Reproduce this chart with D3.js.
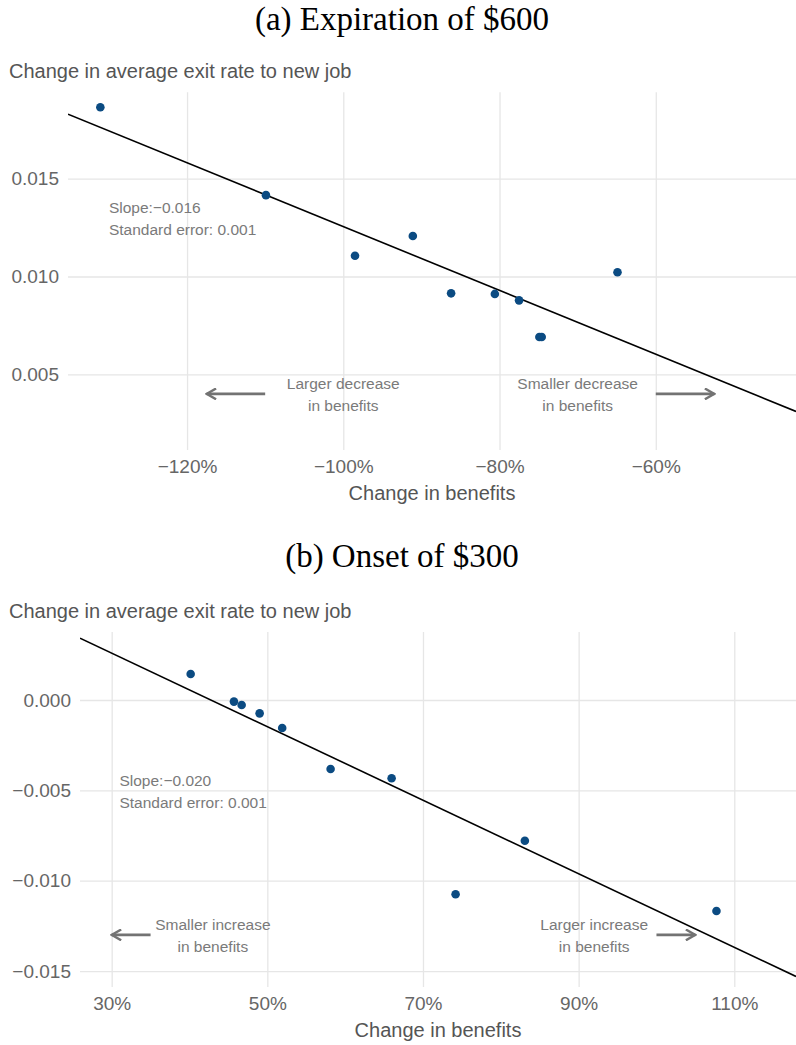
<!DOCTYPE html>
<html lang="en">
<head>
<meta charset="utf-8">
<style>
  body { margin: 0; background: #fff; }
  svg text { font-family: "Liberation Sans", Arial, sans-serif; }
  .grid line { stroke: #e6e6e6; stroke-width: 1.3; }
  .grid text { fill: #666; font-size: 19px; font-family: "Liberation Sans", Arial, sans-serif; }
  .axis-title { fill: #555; font-size: 20px; }
  .note { fill: #7a7a7a; font-size: 15.5px; }
  .panel-title { font-family: "Liberation Serif", "Times New Roman", serif !important; font-size: 33px; fill: #000; }
  .fit { fill: none; stroke: #000; stroke-width: 1.6; }
  .dot { fill: #0b4b82; }
  .arrow { stroke: #737373; stroke-width: 2.6; fill: none; }
</style>
</head>
<body>
<svg width="796" height="1045"></svg>
<script src="https://cdn.jsdelivr.net/npm/d3@7"></script>
<script>

// ---- panel (a): expiration of $600 ----
var expChange = [-1.311, -1.099, -0.985, -0.911, -0.862, -0.806, -0.775, -0.749, -0.746, -0.649];
var expExitRate = [0.01865, 0.01416, 0.01106, 0.01207, 0.00914, 0.00911, 0.00878, 0.00691, 0.00691, 0.01022];
var expFit = { intercept: -0.003758, slope: -0.01631 };
var expXTicks = [-1.2, -1.0, -0.8, -0.6];
var expYTicks = [0.005, 0.010, 0.015];
var expStats = ["Slope:\u22120.016", "Standard error: 0.001"];
var expNotes = [
    { x: -1.00, y: 0.004, lines: ["Larger decrease", "in benefits"], from: -1.10, to: -1.175 },
    { x: -0.70, y: 0.004, lines: ["Smaller decrease", "in benefits"], from: -0.60, to: -0.525 }
];

// ---- panel (b): onset of $300 ----
var onsChange = [0.4015, 0.4571, 0.4670, 0.4901, 0.5191, 0.5813, 0.6597, 0.7419, 0.8309, 1.0771];
var onsExitRate = [0.00144, -0.00009, -0.00028, -0.00074, -0.00155, -0.00382, -0.00433, -0.01075, -0.00779, -0.01168];
var onsFit = { intercept: 0.0087, slope: -0.02035 };
var onsXTicks = [0.3, 0.5, 0.7, 0.9, 1.1];
var onsYTicks = [0.000, -0.005, -0.010, -0.015];
var onsStats = ["Slope:\u22120.020", "Standard error: 0.001"];
var onsNotes = [
    { x: 0.43, y: -0.013, lines: ["Smaller increase", "in benefits"], from: 0.35, to: 0.30 },
    { x: 0.92, y: -0.013, lines: ["Larger increase", "in benefits"], from: 1.00, to: 1.05 }
];

var svg = d3.select("svg");

svg.append("defs").append("marker")
    .attr("id", "head")
    .attr("viewBox", "0 0 12 12")
    .attr("refX", 10.5).attr("refY", 6)
    .attr("markerWidth", 12).attr("markerHeight", 12)
    .attr("markerUnits", "userSpaceOnUse")
    .attr("orient", "auto")
    .append("path")
    .attr("d", "M1,0.6 L10.5,6 L1,11.4")
    .attr("fill", "none")
    .attr("stroke", "#737373")
    .attr("stroke-width", 2.4);

var pct = d3.format(".0%");
var rate = d3.format(".3f");

function drawPanel(opt) {
    var x = d3.scaleLinear().domain(opt.xDomain).range([opt.left, opt.right]);
    var y = d3.scaleLinear().domain(opt.yDomain).range([opt.bottom, opt.top]);
    var g = svg.append("g");

    g.append("text")
        .attr("class", "panel-title")
        .attr("x", opt.titleX).attr("y", opt.titleY)
        .attr("text-anchor", "middle")
        .text(opt.title);

    g.append("text")
        .attr("class", "axis-title")
        .attr("x", 9).attr("y", opt.top - 14.5)
        .text("Change in average exit rate to new job");

    // grid + tick labels through d3 axes
    var gx = g.append("g")
        .attr("class", "grid")
        .attr("transform", "translate(0," + opt.bottom + ")")
        .call(d3.axisBottom(x).tickValues(opt.xTicks).tickFormat(pct)
            .tickSize(-(opt.bottom - opt.top)).tickPadding(9.3));
    var gy = g.append("g")
        .attr("class", "grid")
        .attr("transform", "translate(" + opt.left + ",0)")
        .call(d3.axisLeft(y).tickValues(opt.yTicks).tickFormat(rate)
            .tickSize(-(opt.right - opt.left)).tickPadding(9));
    [gx, gy].forEach(function (a) {
        a.attr("font-size", null).attr("font-family", null);
        a.select(".domain").remove();
    });

    g.append("text")
        .attr("class", "axis-title")
        .attr("x", (opt.left + opt.right) / 2).attr("y", opt.bottom + 49.5)
        .attr("text-anchor", "middle")
        .text("Change in benefits");

    // slope note
    var st = g.append("text").attr("class", "note")
        .attr("x", x(opt.statX)).attr("y", y(opt.statY));
    st.selectAll("tspan").data(opt.stats).enter().append("tspan")
        .attr("x", x(opt.statX))
        .attr("dy", function (d, i) { return i === 0 ? -4.6 : 22; })
        .text(function (d) { return d; });

    // direction notes and arrows
    opt.notes.forEach(function (n) {
        var t = g.append("text").attr("class", "note")
            .attr("text-anchor", "middle")
            .attr("y", y(n.y));
        t.selectAll("tspan").data(n.lines).enter().append("tspan")
            .attr("x", x(n.x))
            .attr("dy", function (d, i) { return i === 0 ? -4.6 : 22; })
            .text(function (d) { return d; });
        g.append("line")
            .attr("class", "arrow")
            .attr("x1", x(n.from)).attr("x2", x(n.to))
            .attr("y1", y(n.y)).attr("y2", y(n.y))
            .attr("marker-end", "url(#head)");
    });

    // fitted line clipped to panel
    var clipId = "clip" + opt.id;
    svg.select("defs").append("clipPath").attr("id", clipId)
        .append("rect")
        .attr("x", opt.left).attr("y", opt.top)
        .attr("width", opt.right - opt.left).attr("height", opt.bottom - opt.top);
    var xd = x.domain();
    g.append("path")
        .datum(xd)
        .attr("class", "fit")
        .attr("clip-path", "url(#" + clipId + ")")
        .attr("d", d3.line()
            .x(function (d) { return x(d); })
            .y(function (d) { return y(opt.fit.intercept + opt.fit.slope * d); }));

    g.selectAll("circle.dot")
        .data(opt.xs.map(function (d, i) { return [d, opt.ys[i]]; }))
        .enter().append("circle")
        .attr("class", "dot")
        .attr("r", 4.3)
        .attr("cx", function (d) { return x(d[0]); })
        .attr("cy", function (d) { return y(d[1]); });
}

drawPanel({
    id: "a",
    title: "(a) Expiration of $600", titleX: 402, titleY: 29.5,
    left: 68, right: 796, top: 92.3, bottom: 450,
    xDomain: [-1.3524, -0.4205], yDomain: [0.001131, 0.019417],
    xTicks: expXTicks, yTicks: expYTicks,
    xs: expChange, ys: expExitRate, fit: expFit,
    stats: expStats, statX: -1.30, statY: 0.013,
    notes: expNotes
});

drawPanel({
    id: "b",
    title: "(b) Onset of $300", titleX: 402, titleY: 566.5,
    left: 80, right: 796, top: 632, bottom: 987,
    xDomain: [0.2593, 1.1793], yDomain: [-0.015883, 0.003763],
    xTicks: onsXTicks, yTicks: onsYTicks,
    xs: onsChange, ys: onsExitRate, fit: onsFit,
    stats: onsStats, statX: 0.31, statY: -0.005,
    notes: onsNotes
});

</script>
</body>
</html>
